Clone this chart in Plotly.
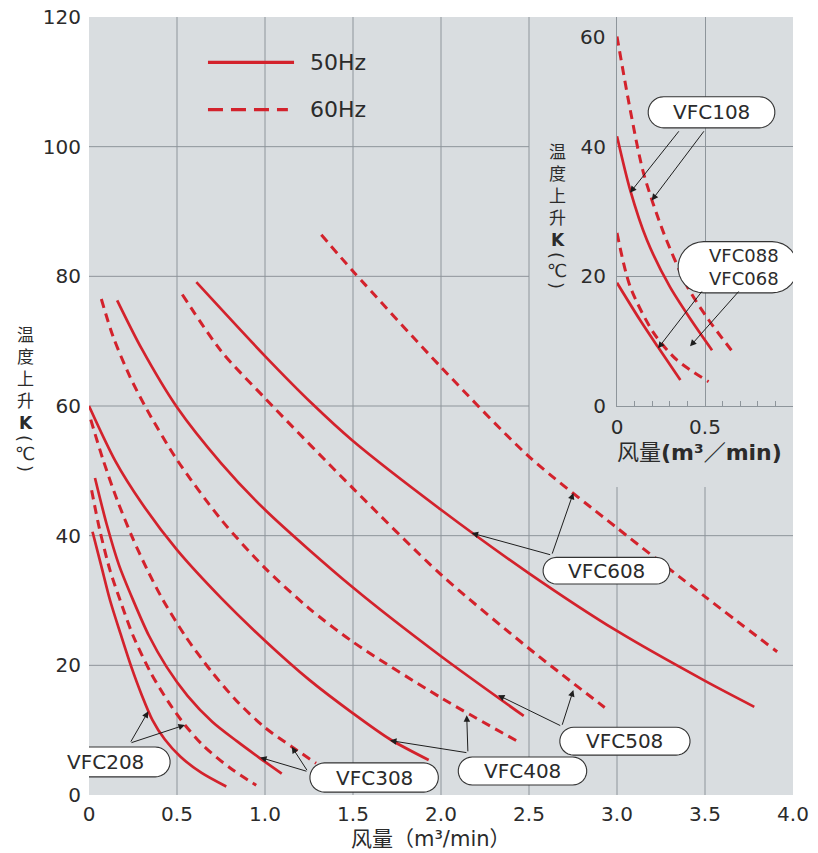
import plotly.graph_objects as go
import numpy as np

# ---------------- data ----------------
# main chart: x = air flow (m3/min), y = temperature rise K
vfc608_50_x = [0.61, 1.0, 1.27, 1.5, 2.0, 2.5, 3.0, 3.5, 3.78]
vfc608_50_y = [79.1, 67.7, 60.3, 54.6, 44.0, 34.2, 25.3, 17.6, 13.6]
vfc608_60_x = [1.32, 1.5, 2.0, 2.5, 3.0, 3.5, 3.91]
vfc608_60_y = [86.4, 80.8, 66.0, 52.2, 41.2, 30.6, 22.1]

vfc508_50_x = [0.16, 0.3, 0.5, 0.75, 1.0, 1.5, 2.0, 2.47]
vfc508_50_y = [76.3, 68.8, 59.8, 51.2, 44.0, 32.0, 21.4, 12.2]
vfc508_60_x = [0.53, 0.75, 1.0, 1.5, 2.0, 2.5, 2.93]
vfc508_60_y = [77.2, 68.5, 61.2, 47.3, 34.0, 22.6, 13.5]

vfc408_50_x = [0.0, 0.15, 0.3, 0.5, 0.75, 1.0, 1.25, 1.5, 1.71, 1.93]
vfc408_50_y = [60.0, 51.5, 45.0, 37.8, 30.4, 23.8, 17.8, 12.6, 8.6, 5.4]
vfc408_60_x = [0.07, 0.137, 0.233, 0.33, 0.5, 0.75, 1.0, 1.25, 1.5, 2.0, 2.44]
vfc408_60_y = [76.5, 70.7, 64.5, 59.4, 51.7, 42.5, 35.0, 28.8, 23.6, 15.0, 8.2]

vfc308_50_x = [0.034, 0.1, 0.17, 0.25, 0.34, 0.44, 0.56, 0.7, 0.84, 0.97, 1.095]
vfc308_50_y = [48.9, 41.8, 35.5, 30.1, 24.6, 19.8, 15.3, 11.3, 8.3, 5.7, 3.3]
vfc308_60_x = [0.01, 0.08, 0.16, 0.25, 0.33, 0.42, 0.55, 0.7, 0.85, 1.0, 1.152, 1.29]
vfc308_60_y = [57.9, 51.7, 45.5, 39.5, 34.8, 30.1, 24.4, 18.9, 14.2, 10.4, 7.45, 4.9]

vfc208_50_x = [0.02, 0.07, 0.12, 0.18, 0.24, 0.3, 0.36, 0.43, 0.52, 0.64, 0.78]
vfc208_50_y = [40.6, 35.3, 30.0, 24.8, 19.8, 15.4, 11.6, 8.6, 5.9, 3.4, 1.3]
vfc208_60_x = [0.015, 0.06, 0.12, 0.176, 0.25, 0.35, 0.45, 0.545, 0.65, 0.8, 0.95]
vfc208_60_y = [47.0, 41.0, 34.6, 30.1, 24.6, 18.9, 14.4, 10.8, 7.6, 4.2, 1.5]

# inset chart (its own axes)
vfc108_50_x = [0.0, 0.075, 0.17, 0.30, 0.42, 0.54]
vfc108_50_y = [41.6, 33.3, 25.6, 18.4, 13.3, 8.6]
vfc108_60_x = [0.0, 0.075, 0.15, 0.265, 0.40, 0.52, 0.65]
vfc108_60_y = [57.0, 45.7, 36.0, 26.7, 18.4, 13.3, 8.6]
vfc088_50_x = [0.0, 0.13, 0.23, 0.36]
vfc088_50_y = [19.0, 13.3, 9.2, 4.0]
vfc088_60_x = [0.0, 0.075, 0.21, 0.34, 0.52]
vfc088_60_y = [26.7, 18.4, 11.2, 7.1, 3.75]

x_ticks = [0, 0.5, 1.0, 1.5, 2.0, 2.5, 3.0, 3.5, 4.0]
x_ticktext = ["0", "0.5", "1.0", "1.5", "2.0", "2.5", "3.0", "3.5", "4.0"]
y_ticks = [0, 20, 40, 60, 80, 100, 120]
inset_x_ticks = [0, 0.5]
inset_x_ticktext = ["0", "0.5"]
inset_y_ticks = [0, 20, 40]

# label bubbles: center x, center y, width, height (main data units)
bubbles = [
    (2.94, 34.6, 0.72, 4.1),
    (3.045, 8.3, 0.74, 4.3),
    (2.463, 3.7, 0.73, 4.3),
    (1.62, 2.7, 0.73, 4.5),
    (0.091, 5.1, 0.74, 4.6),
    (3.537, 105.3, 0.72, 4.8),
    (3.687, 81.4, 0.68, 7.9),
]
# label texts: text, x, y, size (main data units)
label_texts = [
    ("VFC608", 2.94, 34.6, 20), ("VFC508", 3.045, 8.3, 20), ("VFC408", 2.463, 3.7, 20),
    ("VFC308", 1.62, 2.7, 20), ("VFC208", 0.091, 5.1, 20), ("VFC108", 3.537, 105.3, 20),
    ("VFC088<br>VFC068", 3.72, 81.4, 18),
]
# arrows: tail x, tail y, tip x, tip y (main data units)
arrows = [
    (2.629, 37.0, 2.174, 40.4), (2.629, 37.0, 2.752, 46.6),
    (2.686, 10.6, 2.324, 15.4), (2.686, 10.6, 2.752, 16.2),
    (2.153, 6.5, 1.71, 8.4), (2.153, 6.5, 2.146, 12.3),
    (1.244, 3.6, 0.972, 5.8), (1.244, 3.6, 1.152, 7.45),
    (0.233, 8.0, 0.337, 12.9), (0.233, 8.0, 0.545, 10.8),
    (3.358, 102.6, 3.074, 92.9), (3.50, 102.6, 3.197, 91.7),
    (3.489, 77.9, 3.233, 68.9), (3.699, 77.9, 3.415, 69.2),
]

RED = "#d3222c"
BG = "#d9dde0"
GRID = "#8e959b"
TXT = "#2b2b2b"
FONT = "DejaVu Sans, Noto Sans CJK SC, sans-serif"
CJK = "Noto Sans CJK SC, sans-serif"

W, H = 818, 853
PL, PR, PT, PB = 89, 793, 17, 795
IL, IB = 617, 406

fig = go.Figure()

main = [
    (vfc608_50_x, vfc608_50_y, False), (vfc608_60_x, vfc608_60_y, True),
    (vfc508_50_x, vfc508_50_y, False), (vfc508_60_x, vfc508_60_y, True),
    (vfc408_50_x, vfc408_50_y, False), (vfc408_60_x, vfc408_60_y, True),
    (vfc308_50_x, vfc308_50_y, False), (vfc308_60_x, vfc308_60_y, True),
    (vfc208_50_x, vfc208_50_y, False), (vfc208_60_x, vfc208_60_y, True),
]
for xs, ys, dashed in main:
    fig.add_trace(go.Scatter(
        x=xs, y=ys, mode="lines", xaxis="x", yaxis="y", showlegend=False,
        line=dict(color=RED, width=3 if dashed else 2.7, shape="spline", smoothing=0.8,
                  dash="9px,6px" if dashed else "solid"),
        hoverinfo="skip"))

inset = [
    (vfc108_50_x, vfc108_50_y, False), (vfc108_60_x, vfc108_60_y, True),
    (vfc088_50_x, vfc088_50_y, False), (vfc088_60_x, vfc088_60_y, True),
]
for xs, ys, dashed in inset:
    fig.add_trace(go.Scatter(
        x=xs, y=ys, mode="lines", xaxis="x2", yaxis="y2", showlegend=False,
        line=dict(color=RED, width=3 if dashed else 2.7, shape="spline", smoothing=0.8,
                  dash="9px,6px" if dashed else "solid"),
        hoverinfo="skip"))

shapes = []
shapes.append(dict(type="rect", xref="x", yref="y", x0=0, x1=4, y0=0, y1=120,
                   fillcolor=BG, line=dict(width=0), layer="below"))
for xv in [0.5, 1.0, 1.5, 2.0, 2.5]:
    shapes.append(dict(type="line", xref="x", yref="y", x0=xv, x1=xv, y0=0, y1=120,
                       line=dict(color=GRID, width=1), layer="below"))
for xv in [3.0, 3.5]:
    shapes.append(dict(type="line", xref="x", yref="y", x0=xv, x1=xv, y0=0, y1=47.5,
                       line=dict(color=GRID, width=1), layer="below"))
for yv in [20, 40]:
    shapes.append(dict(type="line", xref="x", yref="y", x0=0, x1=4, y0=yv, y1=yv,
                       line=dict(color=GRID, width=1), layer="below"))
for yv in [60, 80, 100]:
    shapes.append(dict(type="line", xref="x", yref="y", x0=0, x1=2.5, y0=yv, y1=yv,
                       line=dict(color=GRID, width=1), layer="below"))

# legend sample lines
shapes.append(dict(type="line", xref="x", yref="y", x0=0.676, x1=1.165, y0=113.0, y1=113.0,
                   line=dict(color=RED, width=3.2), layer="above"))
shapes.append(dict(type="line", xref="x", yref="y", x0=0.676, x1=1.13, y0=105.7, y1=105.7,
                   line=dict(color=RED, width=3.2, dash="15px,8px"), layer="above"))

sx = (PR - PL) / 4.0
sy = (PB - PT) / 120.0
for cx, cy, w, h in bubbles:
    hh = h / 2.0
    rx = hh * sy / sx
    pts = []
    for a in np.linspace(-np.pi / 2, np.pi / 2, 16):
        pts.append((cx + w / 2 - rx + rx * np.cos(a), cy + hh * np.sin(a)))
    for a in np.linspace(np.pi / 2, 3 * np.pi / 2, 16):
        pts.append((cx - w / 2 + rx + rx * np.cos(a), cy + hh * np.sin(a)))
    path = "M " + " L ".join(f"{px:.4f},{py:.4f}" for px, py in pts) + " Z"
    shapes.append(dict(type="path", xref="x", yref="y", path=path,
                       fillcolor="white", line=dict(color="#333333", width=1.1), layer="above"))

annotations = []
for text, tx, ty, sz in label_texts:
    annotations.append(dict(x=tx, y=ty, xref="x", yref="y", text=text, showarrow=False,
                            font=dict(family=FONT, size=sz, color=TXT),
                            xanchor="center", yanchor="middle", borderpad=0))
for tx, ty, hx, hy in arrows:
    annotations.append(dict(x=hx, y=hy, ax=tx, ay=ty, xref="x", yref="y", axref="x", ayref="y",
                            text="", showarrow=True, arrowhead=2, arrowsize=1.3, arrowwidth=1,
                            arrowcolor="#1e1e1e", standoff=0, startstandoff=0))

annotations.append(dict(x=1.244, y=113.0, xref="x", yref="y", text="50Hz", showarrow=False,
                        font=dict(family=FONT, size=22, color=TXT), xanchor="left", yanchor="middle"))
annotations.append(dict(x=1.244, y=105.7, xref="x", yref="y", text="60Hz", showarrow=False,
                        font=dict(family=FONT, size=22, color=TXT), xanchor="left", yanchor="middle"))


def pap(px, py):
    return px / W, 1 - py / H


# axis titles
tx, ty = pap(431, 839)
annotations.append(dict(x=tx, y=ty, xref="paper", yref="paper", text="风量（m³/min）",
                        showarrow=False, font=dict(family=FONT, size=21, color=TXT),
                        xanchor="center", yanchor="middle"))
tx, ty = pap(699, 452)
annotations.append(dict(x=tx, y=ty, xref="paper", yref="paper", text="风量<b>(m³／min)</b>",
                        showarrow=False, font=dict(family=FONT, size=22, color=TXT),
                        xanchor="center", yanchor="middle"))

# vertical (stacked) y titles: main column of characters + rotated brackets around ℃
for base_x, base_y in [(25, 335), (557, 152)]:
    px_, py_ = pap(base_x, base_y + 44)
    annotations.append(dict(x=px_, y=py_, xref="paper", yref="paper",
                            text="温<br>度<br>上<br>升<br><b>K</b>", showarrow=False,
                            font=dict(family=FONT, size=17, color=TXT),
                            xanchor="center", yanchor="middle", borderpad=0))
    for ch, dy, ang, sz in [("(", 103, 90, 18), ("℃", 118, 0, 18), (")", 133, 90, 18)]:
        px_, py_ = pap(base_x, base_y + dy)
        annotations.append(dict(x=px_, y=py_, xref="paper", yref="paper", text=ch,
                                textangle=ang, showarrow=False,
                                font=dict(family=FONT, size=sz, color=TXT),
                                xanchor="center", yanchor="middle", borderpad=0))

tx, ty = pap(607, 37)
annotations.append(dict(x=tx, y=ty, xref="paper", yref="paper", text="60", showarrow=False,
                        font=dict(family=FONT, size=20, color=TXT), xanchor="right", yanchor="middle"))

tickfont = dict(family=FONT, size=20, color=TXT)
fig.update_layout(
    width=W, height=H,
    margin=dict(l=0, r=0, t=0, b=0),
    paper_bgcolor="white", plot_bgcolor="rgba(0,0,0,0)",
    showlegend=False,
    xaxis=dict(domain=[PL / W, PR / W], range=[0, 4], tickmode="array", tickvals=x_ticks,
               ticktext=x_ticktext, showgrid=False, zeroline=False, showline=False, ticks="",
               tickfont=tickfont, ticklabelstandoff=5, automargin=False, anchor="y", fixedrange=True),
    yaxis=dict(domain=[1 - PB / H, 1 - PT / H], range=[0, 120], tickmode="array", tickvals=y_ticks,
               showgrid=False, zeroline=False, showline=False, ticks="",
               tickfont=tickfont, ticklabelstandoff=7, automargin=False, anchor="x", fixedrange=True),
    xaxis2=dict(domain=[IL / W, PR / W], range=[0, 1.0], tickmode="array", tickvals=inset_x_ticks,
                ticktext=inset_x_ticktext, showgrid=True, gridcolor=GRID, gridwidth=1,
                zeroline=False, showline=True, linecolor=GRID, linewidth=1, ticks="",
                minor=dict(tickmode="array", tickvals=[0.1, 0.2, 0.3, 0.4, 0.6, 0.7, 0.8, 0.9],
                           ticks="inside", ticklen=5, tickcolor=GRID, tickwidth=1, showgrid=False),
                tickfont=tickfont, ticklabelstandoff=3, automargin=False, anchor="y2", fixedrange=True),
    yaxis2=dict(domain=[1 - IB / H, 1 - PT / H], range=[0, 60], tickmode="array", tickvals=inset_y_ticks,
                showgrid=True, gridcolor=GRID, gridwidth=1, zeroline=False, showline=True,
                linecolor=GRID, linewidth=1, ticks="",
                tickfont=tickfont, ticklabelstandoff=6, automargin=False, anchor="x2", fixedrange=True),
    shapes=shapes,
    annotations=annotations,
)

fig.write_html("out.html", config={"displayModeBar": False},
               post_script="document.body.style.margin='0px';document.body.style.padding='0px';")
